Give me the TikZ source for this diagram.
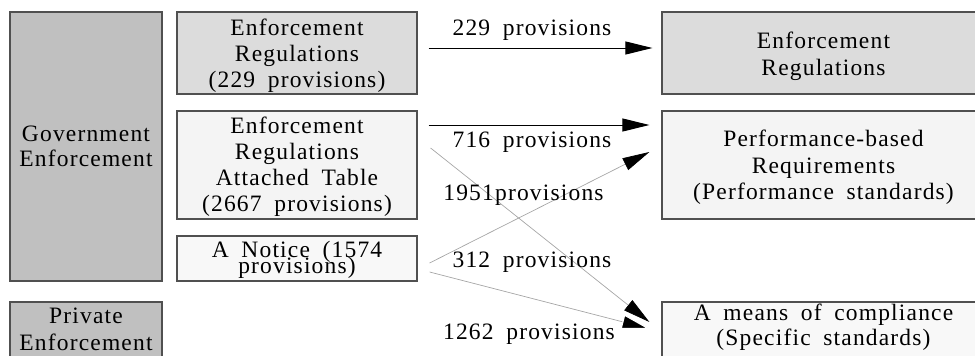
\documentclass[tikz,border=0pt]{standalone}
\usepackage{fontspec}
\setmainfont{Liberation Serif}[LetterSpace=5,WordSpace=1.8]
\usetikzlibrary{arrows.meta}
\definecolor{edge}{HTML}{505050}
\definecolor{cdark}{HTML}{C0C0C0}
\definecolor{cmid}{HTML}{DCDCDC}
\definecolor{clight}{HTML}{F4F4F4}
\definecolor{cpale}{HTML}{F8F8F8}
\definecolor{linegray}{HTML}{A6A6A6}
\newcommand{\fs}[1]{\fontsize{23.5}{#1}\selectfont\lineskiplimit=-30pt\lineskip=0pt}
\begin{document}
\begin{tikzpicture}[x=1pt,y=-1pt,
  box/.style={draw=edge, line width=1.2pt, inner sep=0pt},
  txt/.style={inner sep=0pt, align=center, font=\fs{26.5}},
  lbl/.style={inner sep=0pt, anchor=base, font=\fs{25}},
  blk/.style={black, line width=1pt, -{Triangle[length=27pt,width=13pt]}},
  gry/.style={draw=linegray, line width=0.7pt,
    -{Triangle[length=27pt,width=13pt,color=black,fill=black]}},
  gryw/.style={draw=linegray, line width=0.7pt,
    -{Triangle[length=29pt,width=15pt,color=white,fill=black,line width=1.2pt]}}]
\useasboundingbox (0,0) rectangle (975,356);
% left column
\node[box, fill=cdark, minimum width=152pt, minimum height=269pt] (gov) at (86,146.5) {};
\node[txt, font=\fs{25}] (govt) at (86,146.7) {Government\\Enforcement};
\node[box, fill=cdark, minimum width=152pt, minimum height=60pt] (priv) at (86,332) {};
\node[txt, font=\fs{27}] (privt) at (86,329) {Private\\Enforcement};
% middle column
\node[box, fill=cmid, minimum width=240pt, minimum height=82pt] (er1) at (297,53) {};
\node[txt, font=\fs{26}] (er1t) at (297,55.5) {Enforcement\\Regulations\\(229 provisions)};
\node[box, fill=clight, minimum width=240pt, minimum height=108pt] (att) at (297,165) {};
\node[txt, font=\fs{26}] (attt) at (297,166.5) {Enforcement\\Regulations\\Attached Table\\(2667 provisions)};
\node[box, fill=cpale, minimum width=240pt, minimum height=45pt] (notice) at (297,258.5) {};
\node[txt, font=\fs{16}] (noticet) at (297,259.4) {A Notice (1574\\provisions)};
% right column
\node[box, fill=cmid, minimum width=323pt, minimum height=82pt] (er2) at (823.5,53) {};
\node[txt, font=\fs{27}] (er2t) at (823.5,56) {Enforcement\\Regulations};
\node[box, fill=clight, minimum width=323pt, minimum height=108pt] (perf) at (823.5,165) {};
\node[txt] (perft) at (823.5,167.5) {Performance-based\\Requirements\\(Performance standards)};
\node[box, fill=cpale, minimum width=323pt, minimum height=60pt] (means) at (823.5,332) {};
\node[txt, font=\fs{25}] (meanst) at (823.5,327) {A means of compliance\\(Specific standards)};
% connectors
\draw[blk] ([shift={(11,-5)}]er1.east) -- ([shift={(-9,-5)}]er2.west);
\draw[blk] ([shift={(11,-40)}]att.east) -- ([shift={(-12,-40)}]perf.west);
\draw[gry] ([shift={(13,-17)}]att.east) -- ([shift={(-12,-10)}]means.west);
\draw[gry] ([shift={(12,4.5)}]notice.east) -- ([shift={(-12,-13)}]perf.west);
\draw[gryw] ([shift={(12,13.5)}]notice.east) -- ([shift={(-11,-3)}]means.west);
% labels
\node[lbl] (l229) at (532,35) {229 provisions};
\node[lbl] (l716) at (532,147) {716 provisions};
\node[lbl] (l1951) at (523.5,200) {1951provisions};
\node[lbl] (l312) at (532,267) {312 provisions};
\node[lbl] (l1262) at (529,339) {1262 provisions};
\end{tikzpicture}
\end{document}
